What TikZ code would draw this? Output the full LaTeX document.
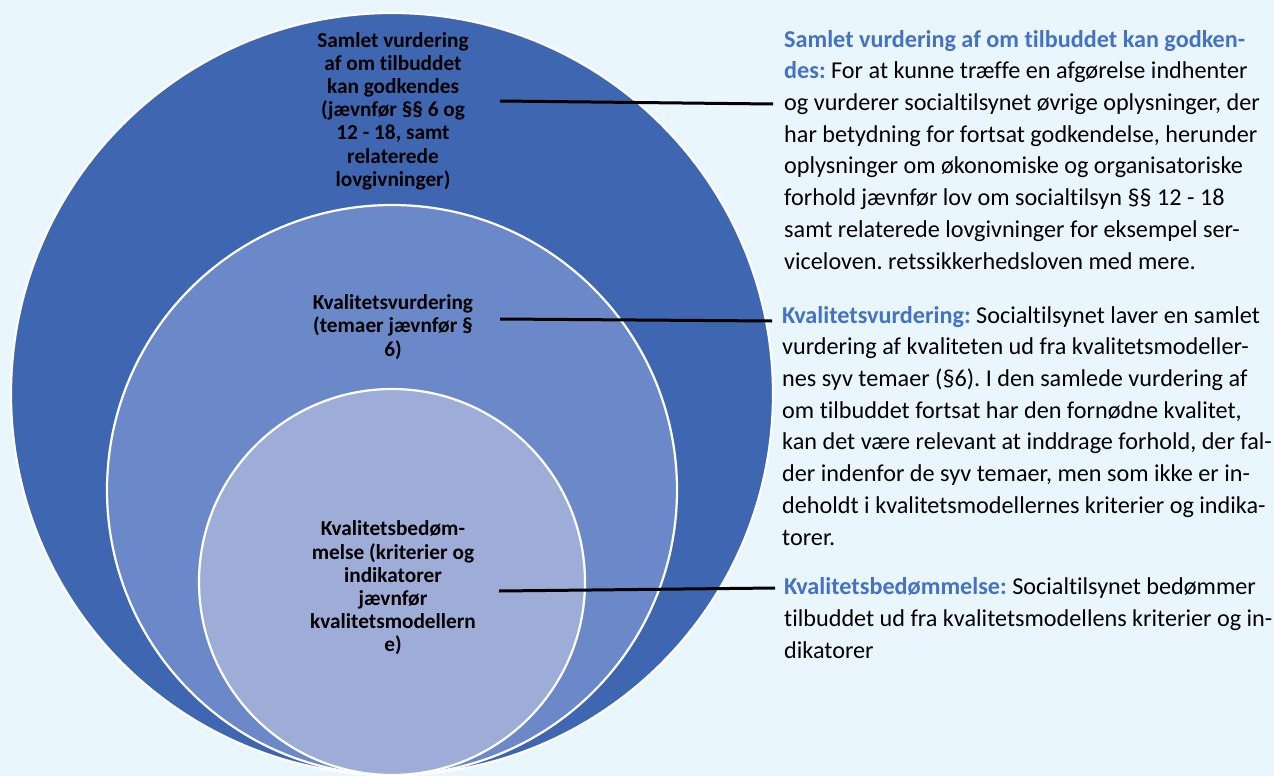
\documentclass[tikz,border=0pt]{standalone}
\usepackage{fontspec}
\setmainfont{Carlito}[RawFeature=-liga]
\frenchspacing
\definecolor{bgblue}{HTML}{EAF6FD}
\definecolor{outerblue}{HTML}{3F66B0}
\definecolor{midblue}{HTML}{6B88C8}
\definecolor{innerblue}{HTML}{9EADD8}
\definecolor{lblue}{HTML}{4472C4}
\newcommand{\lbl}[1]{\textcolor{lblue}{\bfseries #1}}
\begin{document}
\begin{tikzpicture}[x=1pt,y=-1pt,
  ring/.style={draw=white,line width=2.2pt},
  circtxt/.style={font=\bfseries\fontsize{21.3}{23.2}\selectfont,align=center,inner sep=0pt},
  sidetxt/.style={font=\fontsize{24.2}{31.7}\selectfont,align=left,anchor=base west,inner sep=0pt},
  lead/.style={line width=3pt}]
\fill[bgblue] (0,0) rectangle (1274,776);
\useasboundingbox (0,0) rectangle (1274,776);
% circles
\fill[outerblue,ring] (392,394) circle[radius=381pt];
\fill[midblue,ring] (392,490) circle[radius=285pt];
\fill[innerblue,ring] (392,582) circle[radius=193pt];
% circle texts
\node[circtxt] (samlet) at (393,111) {Samlet vurdering\\af om tilbuddet\\kan godkendes\\(jævnfør §§ 6 og\\12 - 18, samt\\relaterede\\lovgivninger)};
\node[circtxt] (kvalvurd) at (393,327) {Kvalitetsvurdering\\(temaer jævnfør §\\6)};
\node[circtxt] (kvalbed) at (393,588) {Kvalitetsbedøm-\\melse (kriterier og\\indikatorer\\jævnfør\\kvalitetsmodellern\\e)};
% side texts (anchored on the baseline of the last line)
\node[sidetxt] (samlettxt) at (784,269) {\lbl{Samlet vurdering af om tilbuddet kan godken-}\\
\lbl{des:} For at kunne træffe en afgørelse indhenter\\
og vurderer socialtilsynet øvrige oplysninger, der\\
har betydning for fortsat godkendelse, herunder\\
oplysninger om økonomiske og organisatoriske\\
forhold jævnfør lov om socialtilsyn §§ 12 - 18\\
samt relaterede lovgivninger for eksempel ser-\\
viceloven. retssikkerhedsloven med mere.};
\node[sidetxt] (kvalvurdtxt) at (782,545) {\lbl{Kvalitetsvurdering:} Socialtilsynet laver en samlet\\
vurdering af kvaliteten ud fra kvalitetsmodeller-\\
nes syv temaer (§6). I den samlede vurdering af\\
om tilbuddet fortsat har den fornødne kvalitet,\\
kan det være relevant at inddrage forhold, der fal-\\
der indenfor de syv temaer, men som ikke er in-\\
deholdt i kvalitetsmodellernes kriterier og indika-\\
torer.};
\node[sidetxt] (kvalbedtxt) at (784,658) {\lbl{Kvalitetsbedømmelse:} Socialtilsynet bedømmer\\
tilbuddet ud fra kvalitetsmodellens kriterier og in-\\
dikatorer};
% leader lines
\coordinate (s1) at (500,101);
\coordinate (e1) at (773,104);
\coordinate (s2) at (500,319);
\coordinate (e2) at (772,321);
\coordinate (s3) at (499,591);
\coordinate (e3) at (775,588);
\draw[lead] (s1) -- (e1);
\draw[lead] (s2) -- (e2);
\draw[lead] (s3) -- (e3);
\end{tikzpicture}
\end{document}
